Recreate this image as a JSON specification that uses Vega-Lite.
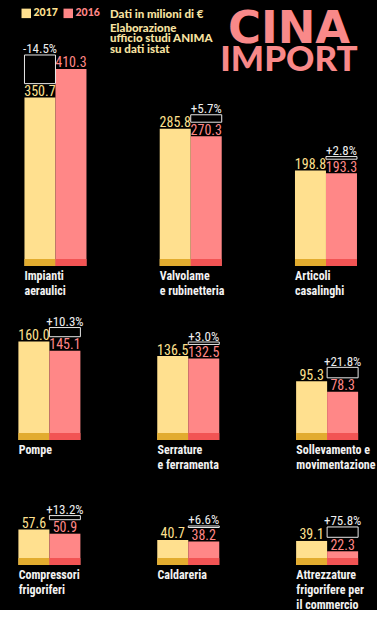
{
  "$schema": "https://vega.github.io/schema/vega-lite/v6.json",
  "background": "black",
  "padding": 0,
  "spacing": 0,
  "datasets": {
    "imports": [
      {"row": 1, "cat": "Impianti\naeraulici", "year": "2017", "value": 350.7, "pct": "-14.5%"},
      {"row": 1, "cat": "Impianti\naeraulici", "year": "2016", "value": 410.3, "pct": "-14.5%"},
      {"row": 1, "cat": "Valvolame\ne rubinetteria", "year": "2017", "value": 285.8, "pct": "+5.7%"},
      {"row": 1, "cat": "Valvolame\ne rubinetteria", "year": "2016", "value": 270.3, "pct": "+5.7%"},
      {"row": 1, "cat": "Articoli\ncasalinghi", "year": "2017", "value": 198.8, "pct": "+2.8%"},
      {"row": 1, "cat": "Articoli\ncasalinghi", "year": "2016", "value": 193.3, "pct": "+2.8%"},
      {"row": 2, "cat": "Pompe", "year": "2017", "value": 160.0, "pct": "+10.3%"},
      {"row": 2, "cat": "Pompe", "year": "2016", "value": 145.1, "pct": "+10.3%"},
      {"row": 2, "cat": "Serrature\ne ferramenta", "year": "2017", "value": 136.5, "pct": "+3.0%"},
      {"row": 2, "cat": "Serrature\ne ferramenta", "year": "2016", "value": 132.5, "pct": "+3.0%"},
      {"row": 2, "cat": "Sollevamento e\nmovimentazione", "year": "2017", "value": 95.3, "pct": "+21.8%"},
      {"row": 2, "cat": "Sollevamento e\nmovimentazione", "year": "2016", "value": 78.3, "pct": "+21.8%"},
      {"row": 3, "cat": "Compressori\nfrigoriferi", "year": "2017", "value": 57.6, "pct": "+13.2%"},
      {"row": 3, "cat": "Compressori\nfrigoriferi", "year": "2016", "value": 50.9, "pct": "+13.2%"},
      {"row": 3, "cat": "Caldareria", "year": "2017", "value": 40.7, "pct": "+6.6%"},
      {"row": 3, "cat": "Caldareria", "year": "2016", "value": 38.2, "pct": "+6.6%"},
      {"row": 3, "cat": "Attrezzature\nfrigorifere per\nil commercio", "year": "2017", "value": 39.1, "pct": "+75.8%"},
      {"row": 3, "cat": "Attrezzature\nfrigorifere per\nil commercio", "year": "2016", "value": 22.3, "pct": "+75.8%"}
    ]
  },
  "title": {
    "text": "CINA", "subtitle": "IMPORT",
    "anchor": "start", "align": "center", "dx": 289, "offset": -78,
    "color": "#F98989", "subtitleColor": "#F98989",
    "font": "DejaVu Sans", "subtitleFont": "Lato",
    "fontSize": 45, "subtitleFontSize": 35,
    "fontWeight": "bold", "subtitleFontWeight": 900,
    "subtitlePadding": -9
  },
  "vconcat": [
    {
      "data": {"name": "imports"},
      "transform": [{"filter": "datum.row == 1"}],
      "width": 377, "height": 266,
      "title": {
        "text": "Dati in milioni di €",
        "subtitle": ["Elaborazione", "ufficio studi ANIMA", "su dati istat"],
        "anchor": "start", "dx": 110, "offset": -55,
        "color": "#F7E2A0", "subtitleColor": "#F7E2A0",
        "font": "Lato", "subtitleFont": "Lato",
        "fontSize": 11.5, "subtitleFontSize": 11.5,
        "fontWeight": 900, "subtitleFontWeight": 900,
        "subtitleLineHeight": 10.5, "subtitlePadding": 2
      },
      "encoding": {
        "x": {"field": "cat", "type": "nominal", "sort": null,
              "scale": {"paddingInner": 0.5416, "paddingOuter": 0.1645, "align": 0.55},
              "axis": {"title": null, "domain": false, "ticks": false, "grid": false, "labelAngle": 0, "labelOffset": -31, "labelAlign": "left", "labelBaseline": "top", "labelPadding": 4, "labelColor": "#F2F2F2", "labelFont": "Roboto Condensed, Lato, sans-serif", "labelFontWeight": "bold", "labelFontSize": 12, "labelLineHeight": 15, "labelOverlap": false, "labelExpr": "split(datum.label, '\\n')"}},
        "xOffset": {"field": "year", "type": "nominal", "sort": null, "scale": {"domain": ["2017", "2016"], "paddingInner": 0, "paddingOuter": 0}},
        "y": {"field": "value", "type": "quantitative", "scale": {"domain": [0, 554], "nice": false}, "axis": null}
      },
      "layer": [
        {"mark": {"type": "bar"},
         "encoding": {"color": {"field": "year", "type": "nominal", "scale": {"domain": ["2017", "2016"], "range": ["#FFE08F", "#FF8787"]},
           "legend": {"title": null, "orient": "none", "legendX": 21, "legendY": 8, "direction": "horizontal", "symbolType": "square", "symbolSize": 90, "symbolStrokeWidth": 0, "symbolOpacity": 1, "labelFontSize": 10.5, "labelFont": "Lato", "labelFontWeight": 900, "labelColor": {"expr": "datum.value == '2017' ? '#FFE08F' : '#FF8787'"}, "labelOffset": 2, "columnPadding": 5, "padding": 0}}}},
        {"mark": {"type": "tick", "thickness": 7, "size": 31, "yOffset": -3.5, "opacity": 1},
         "encoding": {"y": {"datum": 0}, "fill": {"field": "year", "type": "nominal", "scale": {"domain": ["2017", "2016"], "range": ["#E2AC2F", "#F25454"]}, "legend": null}}},
        {"mark": {"type": "text", "font": "Roboto Condensed, DejaVu Sans Condensed, sans-serif", "fontSize": 14, "baseline": "alphabetic", "dy": -1.5},
         "encoding": {"text": {"field": "value", "type": "quantitative", "format": ".1f"},
                      "color": {"condition": {"test": "datum.year == '2017'", "value": "#FFE08F"}, "value": "#FF8787"}}},
        {"transform": [
           {"joinaggregate": [{"op": "max", "field": "value", "as": "maxv"}, {"op": "min", "field": "value", "as": "minv"}], "groupby": ["cat"]},
           {"filter": "datum.value == datum.minv"}],
         "layer": [
           {"mark": {"type": "bar", "fill": "transparent", "stroke": "#E8E8E8", "strokeWidth": 1, "yOffset": -14, "y2Offset": -14},
            "encoding": {"y2": {"field": "maxv"}}},
           {"mark": {"type": "text", "font": "Roboto Condensed, DejaVu Sans Condensed, sans-serif", "fontSize": 13, "baseline": "alphabetic", "dy": -15.5, "color": "#EEEEEE"},
            "encoding": {"y": {"field": "maxv", "type": "quantitative"}, "text": {"field": "pct"}}}
         ]}
      ]
    },
    {
      "data": {"name": "imports"},
      "transform": [{"filter": "datum.row == 2"}],
      "width": 377, "height": 144,
      "encoding": {
        "x": {"field": "cat", "type": "nominal", "sort": null,
              "scale": {"paddingInner": 0.55, "paddingOuter": 0.1325, "align": 0.5},
              "axis": {"title": null, "domain": false, "ticks": false, "grid": false, "labelAngle": 0, "labelOffset": -31, "labelAlign": "left", "labelBaseline": "top", "labelPadding": 4, "labelColor": "#F2F2F2", "labelFont": "Roboto Condensed, Lato, sans-serif", "labelFontWeight": "bold", "labelFontSize": 12, "labelLineHeight": 15, "labelOverlap": false, "labelExpr": "split(datum.label, '\\n')"}},
        "xOffset": {"field": "year", "type": "nominal", "sort": null, "scale": {"domain": ["2017", "2016"], "paddingInner": 0, "paddingOuter": 0}},
        "y": {"field": "value", "type": "quantitative", "scale": {"domain": [0, 234], "nice": false}, "axis": null}
      },
      "layer": [
        {"mark": {"type": "bar"},
         "encoding": {"color": {"field": "year", "type": "nominal", "scale": {"domain": ["2017", "2016"], "range": ["#FFE08F", "#FF8787"]},
           "legend": {"title": null, "orient": "none", "legendX": 21, "legendY": 8, "direction": "horizontal", "symbolType": "square", "symbolSize": 90, "symbolStrokeWidth": 0, "symbolOpacity": 1, "labelFontSize": 10.5, "labelFont": "Lato", "labelFontWeight": 900, "labelColor": {"expr": "datum.value == '2017' ? '#FFE08F' : '#FF8787'"}, "labelOffset": 2, "columnPadding": 5, "padding": 0}}}},
        {"mark": {"type": "tick", "thickness": 7, "size": 31, "yOffset": -3.5, "opacity": 1},
         "encoding": {"y": {"datum": 0}, "fill": {"field": "year", "type": "nominal", "scale": {"domain": ["2017", "2016"], "range": ["#E2AC2F", "#F25454"]}, "legend": null}}},
        {"mark": {"type": "text", "font": "Roboto Condensed, DejaVu Sans Condensed, sans-serif", "fontSize": 14, "baseline": "alphabetic", "dy": -1.5},
         "encoding": {"text": {"field": "value", "type": "quantitative", "format": ".1f"},
                      "color": {"condition": {"test": "datum.year == '2017'", "value": "#FFE08F"}, "value": "#FF8787"}}},
        {"transform": [
           {"joinaggregate": [{"op": "max", "field": "value", "as": "maxv"}, {"op": "min", "field": "value", "as": "minv"}], "groupby": ["cat"]},
           {"filter": "datum.value == datum.minv"}],
         "layer": [
           {"mark": {"type": "bar", "fill": "transparent", "stroke": "#E8E8E8", "strokeWidth": 1, "yOffset": -14, "y2Offset": -14},
            "encoding": {"y2": {"field": "maxv"}}},
           {"mark": {"type": "text", "font": "Roboto Condensed, DejaVu Sans Condensed, sans-serif", "fontSize": 13, "baseline": "alphabetic", "dy": -15.5, "color": "#EEEEEE"},
            "encoding": {"y": {"field": "maxv", "type": "quantitative"}, "text": {"field": "pct"}}}
         ]}
      ]
    },
    {
      "data": {"name": "imports"},
      "transform": [{"filter": "datum.row == 3"}],
      "width": 377, "height": 95,
      "encoding": {
        "x": {"field": "cat", "type": "nominal", "sort": null,
              "scale": {"paddingInner": 0.55, "paddingOuter": 0.1325, "align": 0.5},
              "axis": {"title": null, "domain": false, "ticks": false, "grid": false, "labelAngle": 0, "labelOffset": -31, "labelAlign": "left", "labelBaseline": "top", "labelPadding": 4, "labelColor": "#F2F2F2", "labelFont": "Roboto Condensed, Lato, sans-serif", "labelFontWeight": "bold", "labelFontSize": 12, "labelLineHeight": 15, "labelOverlap": false, "labelExpr": "split(datum.label, '\\n')"}},
        "xOffset": {"field": "year", "type": "nominal", "sort": null, "scale": {"domain": ["2017", "2016"], "paddingInner": 0, "paddingOuter": 0}},
        "y": {"field": "value", "type": "quantitative", "scale": {"domain": [0, 154.5], "nice": false}, "axis": null}
      },
      "layer": [
        {"mark": {"type": "bar"},
         "encoding": {"color": {"field": "year", "type": "nominal", "scale": {"domain": ["2017", "2016"], "range": ["#FFE08F", "#FF8787"]},
           "legend": {"title": null, "orient": "none", "legendX": 21, "legendY": 8, "direction": "horizontal", "symbolType": "square", "symbolSize": 90, "symbolStrokeWidth": 0, "symbolOpacity": 1, "labelFontSize": 10.5, "labelFont": "Lato", "labelFontWeight": 900, "labelColor": {"expr": "datum.value == '2017' ? '#FFE08F' : '#FF8787'"}, "labelOffset": 2, "columnPadding": 5, "padding": 0}}}},
        {"mark": {"type": "tick", "thickness": 7, "size": 31, "yOffset": -3.5, "opacity": 1},
         "encoding": {"y": {"datum": 0}, "fill": {"field": "year", "type": "nominal", "scale": {"domain": ["2017", "2016"], "range": ["#E2AC2F", "#F25454"]}, "legend": null}}},
        {"mark": {"type": "text", "font": "Roboto Condensed, DejaVu Sans Condensed, sans-serif", "fontSize": 14, "baseline": "alphabetic", "dy": -1.5},
         "encoding": {"text": {"field": "value", "type": "quantitative", "format": ".1f"},
                      "color": {"condition": {"test": "datum.year == '2017'", "value": "#FFE08F"}, "value": "#FF8787"}}},
        {"transform": [
           {"joinaggregate": [{"op": "max", "field": "value", "as": "maxv"}, {"op": "min", "field": "value", "as": "minv"}], "groupby": ["cat"]},
           {"filter": "datum.value == datum.minv"}],
         "layer": [
           {"mark": {"type": "bar", "fill": "transparent", "stroke": "#E8E8E8", "strokeWidth": 1, "yOffset": -14, "y2Offset": -14},
            "encoding": {"y2": {"field": "maxv"}}},
           {"mark": {"type": "text", "font": "Roboto Condensed, DejaVu Sans Condensed, sans-serif", "fontSize": 13, "baseline": "alphabetic", "dy": -15.5, "color": "#EEEEEE"},
            "encoding": {"y": {"field": "maxv", "type": "quantitative"}, "text": {"field": "pct"}}}
         ]}
      ]
    }
  ],
  "config": {
    "view": {"stroke": null}
  }
}
